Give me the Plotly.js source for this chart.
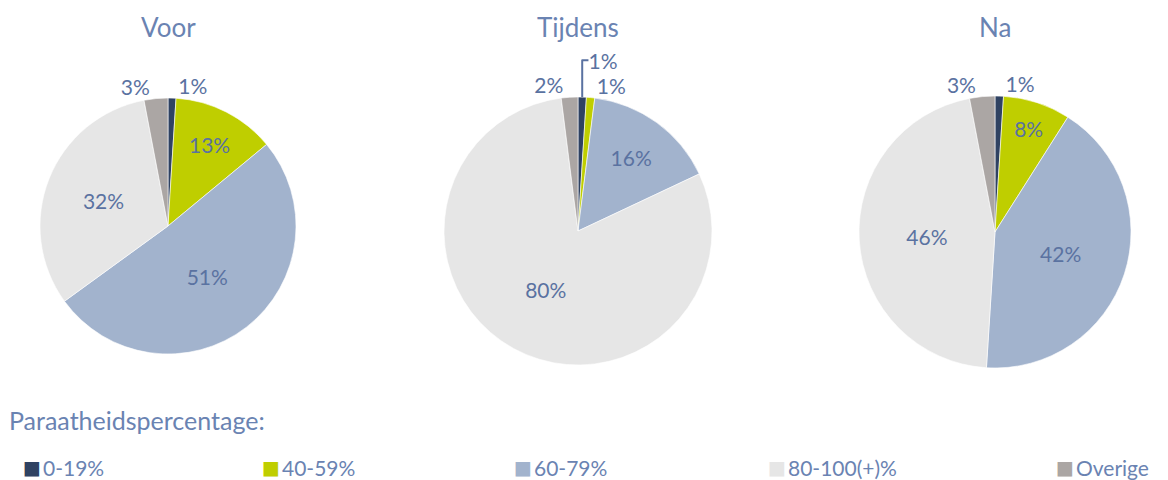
<!DOCTYPE html>
<html>
<head>
<meta charset="utf-8">
<script src="https://cdn.plot.ly/plotly-3.0.1.min.js"></script>
<style>html,body{margin:0;padding:0;background:#fff}#chart{width:1168px;height:480px}</style>
</head>
<body>
<div id="chart"></div>
<script>
const categories = ['0-19%', '40-59%', '60-79%', '80-100(+)%', 'Overige'];
const pieTitles = ['Voor', 'Tijdens', 'Na'];
const voor = [1, 13, 51, 32, 3];
const tijdens = [1, 1, 16, 80, 2];
const na = [1, 8, 42, 46, 3];
const legendTitle = 'Paraatheidspercentage:';

const colors = ['#2F4262', '#BFCE00', '#A2B3CD', '#E6E6E6', '#ABA6A4'];
const labelColor = '#5A72A1';
const titleColor = '#6A83B2';
const FONT = 'Lato, "Open Sans", sans-serif';

const W = 1168, H = 480;
function dom(cx, cy, r) {
  return {x: [(cx - r) / W, (cx + r) / W], y: [1 - cy / H - 0.3, 1 - cy / H + 0.3]};
}
const geo = [
  {cx: 168, cy: 226, r: 128, pos: ['outside', 'inside', 'inside', 'inside', 'outside']},
  {cx: 578, cy: 231, r: 134, pos: ['outside', 'outside', 'inside', 'inside', 'outside']},
  {cx: 995, cy: 232, r: 136, pos: ['outside', 'inside', 'inside', 'inside', 'outside']}
];
const series = [voor, tijdens, na];

const traces = series.map((vals, i) => ({
  type: 'pie',
  labels: categories,
  values: vals,
  sort: false,
  direction: 'clockwise',
  rotation: 0,
  domain: dom(geo[i].cx, geo[i].cy, geo[i].r),
  marker: {colors: colors, line: {color: '#ffffff', width: 0.6}},
  texttemplate: '%{value}%',
  textposition: geo[i].pos,
  insidetextorientation: 'horizontal',
  textfont: {family: FONT, size: 21, color: labelColor},
  hoverinfo: 'label+value',
  showlegend: false
}));

const annotations = pieTitles.map((t, i) => ({
  text: t, xref: 'paper', yref: 'paper', x: geo[i].cx / W, y: 1 - 27 / H,
  xanchor: 'center', yanchor: 'middle', showarrow: false,
  font: {family: FONT, size: 26, color: titleColor}
}));
annotations.push({
  text: legendTitle, xref: 'paper', yref: 'paper', x: 8 / W, y: 1 - 420 / H,
  xanchor: 'left', yanchor: 'middle', showarrow: false, borderpad: 0,
  font: {family: FONT, size: 25, color: titleColor}
});
// legend row (swatch + label), laid out like the original legend
const legendX = [22, 261, 513, 767, 1055];
categories.forEach((c, i) => {
  annotations.push({
    text: '■', xref: 'paper', yref: 'paper', x: legendX[i] / W, y: 1 - 467 / H,
    xanchor: 'left', yanchor: 'middle', showarrow: false, borderpad: 0,
    font: {family: 'DejaVu Sans', size: 19, color: colors[i]}
  });
  annotations.push({
    text: c, xref: 'paper', yref: 'paper', x: (legendX[i] + 20) / W, y: 1 - 467 / H,
    xanchor: 'left', yanchor: 'middle', showarrow: false, borderpad: 0,
    font: {family: FONT, size: 21, color: titleColor}
  });
});

const layout = {
  width: W, height: H,
  margin: {l: 0, r: 0, t: 0, b: 0},
  paper_bgcolor: '#ffffff',
  font: {family: FONT, color: labelColor},
  uniformtext: {mode: 'show', minsize: 21},
  showlegend: false,
  annotations: annotations
};

Plotly.newPlot('chart', traces, layout, {displayModeBar: false, staticPlot: true});
</script>
</body>
</html>
